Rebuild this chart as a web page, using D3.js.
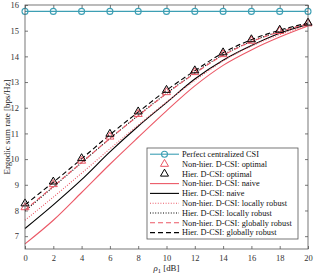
<!DOCTYPE html>
<html>
<head>
<meta charset="utf-8">
<script src="https://cdn.jsdelivr.net/npm/d3@7"></script>
<style>
  body { margin: 0; background: #fff; }
  svg text { font-family: "Liberation Serif", "DejaVu Serif", serif; }
</style>
</head>
<body>
<script>
// Data
var rho = [0, 2, 4, 6, 8, 10, 12, 14, 16, 18, 20];
var perfect_csi      = [15.75, 15.75, 15.75, 15.75, 15.75, 15.75, 15.75, 15.75, 15.75, 15.75, 15.75];
var nonhier_optimal  = [8.12, 9.02, 9.93, 10.87, 11.75, 12.60, 13.38, 14.08, 14.60, 14.98, 15.28];
var hier_optimal     = [8.27, 9.12, 10.03, 10.98, 11.85, 12.69, 13.45, 14.15, 14.66, 15.03, 15.31];
var nonhier_naive    = [6.70, 7.62, 8.70, 9.80, 10.85, 11.88, 12.85, 13.65, 14.25, 14.75, 15.18];
var hier_naive       = [7.30, 8.22, 9.20, 10.28, 11.28, 12.20, 13.12, 13.85, 14.42, 14.90, 15.24];
var nonhier_local    = [7.62, 8.52, 9.45, 10.40, 11.32, 12.22, 13.06, 13.82, 14.40, 14.85, 15.20];
var hier_local       = [7.98, 8.92, 9.86, 10.80, 11.70, 12.56, 13.36, 14.06, 14.58, 14.97, 15.27];
var nonhier_global   = [8.02, 8.94, 9.87, 10.80, 11.69, 12.55, 13.34, 14.04, 14.57, 14.96, 15.26];
var hier_global      = [8.22, 9.10, 10.01, 10.95, 11.83, 12.68, 13.44, 14.14, 14.65, 15.02, 15.30];
var x_ticks = [0, 2, 4, 6, 8, 10, 12, 14, 16, 18, 20];
var y_ticks = [7, 8, 9, 10, 11, 12, 13, 14, 15, 16];

var teal = "#3d9fb4";
var red  = "#eb5866";

var width = 315, height = 276;
var m_left = 25, m_right = 308, m_top = 5, m_bottom = 249;

var svg = d3.select("body").append("svg")
    .attr("width", width)
    .attr("height", height);

var x = d3.scaleLinear().domain([0, 20]).range([m_left, m_right]);
var y = d3.scaleLinear().domain([6.5, 16]).range([m_bottom, m_top]);

// ticks on all four sides, pointing inward
var frame = "#555";

var axis_b = svg.append("g").attr("transform", "translate(0," + m_bottom + ")")
    .call(d3.axisBottom(x).tickValues(x_ticks).tickSize(-3).tickPadding(6));
var axis_t = svg.append("g").attr("transform", "translate(0," + m_top + ")")
    .call(d3.axisTop(x).tickValues(x_ticks).tickSize(-3).tickFormat(""));
var axis_l = svg.append("g").attr("transform", "translate(" + m_left + ",0)")
    .call(d3.axisLeft(y).tickValues(y_ticks).tickSize(-3).tickPadding(6));
var axis_r = svg.append("g").attr("transform", "translate(" + m_right + ",0)")
    .call(d3.axisRight(y).tickValues(y_ticks).tickSize(-3).tickFormat(""));

[axis_b, axis_t, axis_l, axis_r].forEach(function (a) {
    a.select(".domain").remove();
    a.selectAll("line").attr("stroke", frame).attr("stroke-width", 0.8);
    a.selectAll("text").attr("fill", "#333").style("font-size", "8.5px")
        .style("font-family", "Liberation Serif, serif");
});

// axis labels
svg.append("text")
    .attr("transform", "translate(10," + ((m_top + m_bottom) / 2) + ") rotate(-90)")
    .attr("text-anchor", "middle")
    .style("font-size", "9px").attr("fill", "#222")
    .text("Ergodic sum rate [bps/Hz]");

var xl = svg.append("text")
    .attr("x", (m_left + m_right) / 2).attr("y", 271)
    .attr("text-anchor", "middle")
    .style("font-size", "8.8px").attr("fill", "#222");
xl.append("tspan").style("font-style", "italic").text("ρ");
xl.append("tspan").attr("dy", 2).style("font-size", "6.5px").text("1");
xl.append("tspan").attr("dy", -2).text(" [dB]");

// curves
var plot = svg.append("g");

function draw_line(values, color, dash, w) {
    var line = d3.line()
        .x(function (d, i) { return x(rho[i]); })
        .y(function (d) { return y(d); })
        .curve(d3.curveMonotoneX);
    plot.append("path")
        .datum(values)
        .attr("d", line)
        .attr("fill", "none")
        .attr("stroke", color)
        .attr("stroke-width", w || 1.1)
        .attr("stroke-dasharray", dash || null);
}

function draw_triangles(values, color) {
    plot.selectAll(null)
        .data(values)
        .enter()
        .append("path")
        .attr("transform", function (d, i) {
            return "translate(" + x(rho[i]) + "," + y(d) + ")";
        })
        .attr("d", d3.symbol().type(d3.symbolTriangle).size(28))
        .attr("fill", "none")
        .attr("stroke", color)
        .attr("stroke-width", 1);
}

draw_line(nonhier_naive, red);
draw_line(hier_naive, "#000");
draw_line(nonhier_local, red, "1,1.6");
draw_line(hier_local, "#000", "1,1.6");
draw_line(nonhier_global, red, "5,3");
draw_line(hier_global, "#000", "5,3");
draw_triangles(nonhier_optimal, red);
draw_triangles(hier_optimal, "#000");

draw_line(perfect_csi, teal, null, 1.1);
plot.selectAll(null)
    .data(perfect_csi)
    .enter()
    .append("circle")
    .attr("cx", function (d, i) { return x(rho[i]); })
    .attr("cy", function (d) { return y(d); })
    .attr("r", 3)
    .attr("fill", "none")
    .attr("stroke", teal)
    .attr("stroke-width", 1.1);

svg.append("rect")
    .attr("x", m_left).attr("y", m_top)
    .attr("width", m_right - m_left).attr("height", m_bottom - m_top)
    .attr("fill", "none").attr("stroke", frame).attr("stroke-width", 0.8);

// legend
var legend_items = [
    { label: "Perfect centralized CSI", color: teal, type: "circle" },
    { label: "Non-hier. D-CSI: optimal", color: red, type: "tri" },
    { label: "Hier. D-CSI: optimal", color: "#000", type: "tri" },
    { label: "Non-hier. D-CSI: naive", color: red, type: "line", dash: null },
    { label: "Hier. D-CSI: naive", color: "#000", type: "line", dash: null },
    { label: "Non-hier. D-CSI: locally robust", color: red, type: "line", dash: "1,1.6" },
    { label: "Hier. D-CSI: locally robust", color: "#000", type: "line", dash: "1,1.6" },
    { label: "Non-hier. D-CSI: globally robust", color: red, type: "line", dash: "5,3" },
    { label: "Hier. D-CSI: globally robust", color: "#000", type: "line", dash: "5,3" }
];

var lg = svg.append("g");
lg.append("rect")
    .attr("x", 147).attr("y", 148)
    .attr("width", 151).attr("height", 91)
    .attr("fill", "#fff").attr("stroke", frame).attr("stroke-width", 0.8);

var row = lg.selectAll("g.row")
    .data(legend_items)
    .enter()
    .append("g")
    .attr("transform", function (d, i) { return "translate(0," + (154.2 + i * 9.8) + ")"; });

row.filter(function (d) { return d.type != "tri"; })
    .append("line")
    .attr("x1", 150).attr("x2", 179)
    .attr("stroke", function (d) { return d.color; })
    .attr("stroke-width", 1.1)
    .attr("stroke-dasharray", function (d) { return d.dash || null; });

row.filter(function (d) { return d.type == "circle"; })
    .append("circle")
    .attr("cx", 164.5).attr("r", 3)
    .attr("fill", "none").attr("stroke", teal).attr("stroke-width", 1.1);

row.filter(function (d) { return d.type == "tri"; })
    .append("path")
    .attr("transform", "translate(164.5,0)")
    .attr("d", d3.symbol().type(d3.symbolTriangle).size(28))
    .attr("fill", "none")
    .attr("stroke", function (d) { return d.color; })
    .attr("stroke-width", 1);

row.append("text")
    .attr("x", 182).attr("y", 2.8)
    .style("font-size", "8.3px").attr("fill", "#111")
    .text(function (d) { return d.label; });
</script>
</body>
</html>
